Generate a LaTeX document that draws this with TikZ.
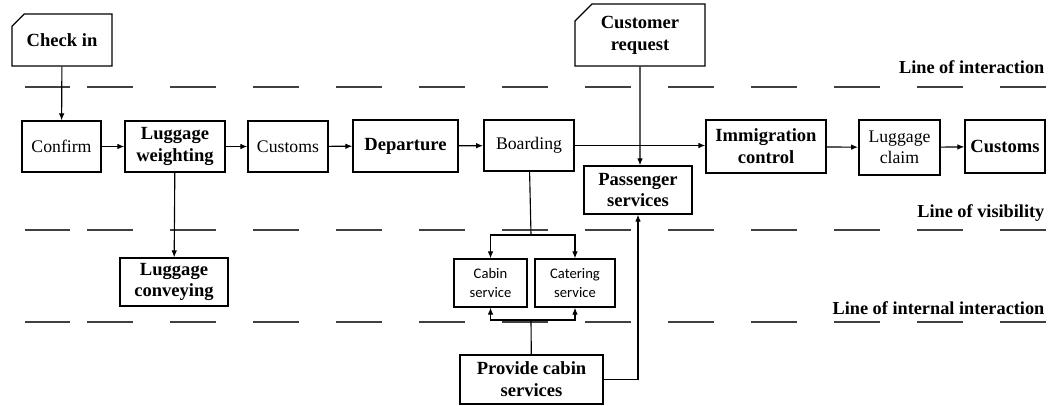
\documentclass[tikz,border=0pt]{standalone}
\usepackage{fontspec}
\setmainfont{Liberation Serif}
\newfontfamily\cabinfont{Carlito}
\usetikzlibrary{arrows.meta,shapes.misc}
\pgfdeclarelayer{bg}
\pgfsetlayers{bg,main}
\tikzset{
  box/.style={draw, line width=0.9pt, align=center, inner sep=1pt,
    font=\fontsize{12.6}{15}\selectfont},
  boldbox/.style={box, font=\fontsize{13.2}{15.5}\selectfont\bfseries},
  smallbox/.style={box, font=\cabinfont\fontsize{10.4}{13}\selectfont},
  cutbox/.style={boldbox, chamfered rectangle, chamfered rectangle corners=north west,
    chamfered rectangle xsep=0.32cm},
  flow/.style={line width=0.8pt, -{Latex[length=5pt,width=4pt]}},
  plain/.style={line width=0.8pt},
  sepline/.style={line width=1.3pt, black!75},
  linelabel/.style={anchor=east, inner sep=1pt, font=\fontsize{13}{15}\selectfont\bfseries}
}

\begin{document}
\begin{tikzpicture}[x=0.025cm, y=-0.025cm]
        \useasboundingbox (0,0) rectangle (1050,406);
        \node (checkin) [cutbox, minimum width=2.5cm, minimum height=1.3cm] at (62,40) {Check in};
        \node (request) [cutbox, minimum width=3.25cm, minimum height=1.55cm] at (640,35) {Customer\\request};
        \node (confirm) [box, thick, minimum width=1.975cm, minimum height=1.275cm] at (61.5,146.5) {Confirm};
        \node (weight) [boldbox, minimum width=2.5cm, minimum height=1.275cm] at (175,146.5) {Luggage\\weighting};
        \node (customsA) [box, minimum width=2cm, minimum height=1.275cm] at (288,146.5) {Customs};
        \node (departure) [boldbox, minimum width=2.625cm, minimum height=1.3cm] at (405.5,146) {Departure};
        \node (boarding) [box, line width=1.3pt, minimum width=2.25cm, minimum height=1.275cm] at (529,145.5) {Boarding};
        \node (passenger) [boldbox, minimum width=2.7cm, minimum height=1.2cm] at (638,190) {Passenger\\services};
        \node (immig) [boldbox, minimum width=3cm, minimum height=1.325cm] at (766,146.5) {Immigration\\control};
        \node (claim) [box, line width=1.3pt, minimum width=2.025cm, minimum height=1.375cm] at (899.5,147.5) {Luggage\\claim};
        \node (customsB) [boldbox, minimum width=2cm, minimum height=1.325cm] at (1005,146.5) {Customs};
        \node (conveying) [boldbox, minimum width=2.7cm, minimum height=1.2cm] at (174,282) {Luggage\\conveying};
        \node (cabin) [smallbox, minimum width=1.825cm, minimum height=1.2cm] at (490.5,283) {Cabin\\service};
        \node (catering) [smallbox, minimum width=2cm, minimum height=1.2cm] at (575,283) {Catering\\service};
        \node (provide) [boldbox, minimum width=3.575cm, minimum height=1.225cm] at (531.5,379.5) {Provide cabin\\services};
        \coordinate (split) at (531,235);
        \coordinate (join) at (531,320);
        \node (interaction) [linelabel] at (1046,67) {Line of interaction};
        \node (visibility) [linelabel] at (1046,213) {Line of visibility};
        \node (internal) [linelabel] at (1046,308) {Line of internal interaction};
        \begin{pgfonlayer}{bg}
                \foreach \y in {87,230,322} {
                        \draw [sepline] (25,\y) -- (70,\y);
                        \draw [sepline, dash pattern=on 1.15cm off 0.925cm] (87,\y) -- (1046,\y);
                }
        \end{pgfonlayer}
        \draw (checkin) edge [flow] (confirm);
        \draw (confirm) edge [flow] (weight);
        \draw (weight) edge [flow] (customsA);
        \draw (customsA) edge [flow] (departure);
        \draw (departure) edge [flow] (boarding);
        \draw [flow] (boarding.east) -- (boarding.east -| immig.west);
        \draw (immig) edge [flow] (claim);
        \draw (claim) edge [flow] (customsB);
        \draw [flow] (request) -- (request |- passenger.north);
        \draw (weight) edge [flow] (conveying);
        \draw [plain] (boarding) -- (split);
        \draw [flow] (split) -| (cabin);
        \draw [flow] (split) -| (catering);
        \draw [plain] (provide) -- (join);
        \draw [flow] (join) -| (cabin);
        \draw [flow] (join) -| (catering);
        \draw [flow] (provide.east) -| (passenger.south);
\end{tikzpicture}
\end{document}
